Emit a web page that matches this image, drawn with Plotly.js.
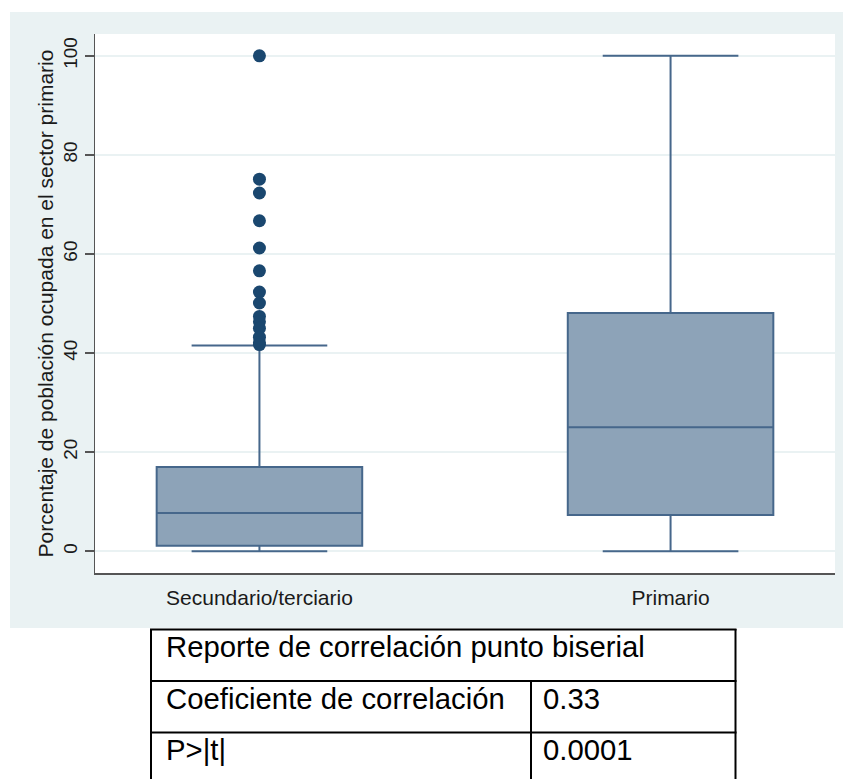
<!DOCTYPE html>
<html>
<head>
<meta charset="utf-8">
<script src="https://cdn.plot.ly/plotly-3.0.1.min.js"></script>
<style>html,body{margin:0;padding:0;background:#fff;}#chart{width:843px;height:779px;}</style>
</head>
<body>
<div id="chart"></div>
<script>
// ---- data ----
var categories = ['Secundario/terciario', 'Primario'];
var q1Values = [1.1, 7.3];
var medianValues = [7.7, 25.0];
var q3Values = [17.0, 48.1];
var lowerFences = [0, 0];
var upperFences = [41.5, 100];
var outlierValues = [100, 75.1, 72.3, 66.7, 61.2, 56.6, 52.3, 50.1, 47.4, 46.3, 45.0, 43.2, 42.1, 41.7];
var yTicks = [0, 20, 40, 60, 80, 100];
var tableRows = [
  ['Reporte de correlación punto biserial', ''],
  ['Coeficiente de correlación', '0.33'],
  ['P>|t|', '0.0001']
];

// ---- geometry helpers (pixel -> paper) ----
var L = 95, R = 835, T = 34, B = 573;
function xp(px) { return (px - L) / (R - L); }
function yp(py) { return (B - py) / (B - T); }

var boxLine = '#46678b';
var traces = [];
categories.forEach(function (c, i) {
  traces.push({
    type: 'box',
    x: [c],
    q1: [q1Values[i]],
    median: [medianValues[i]],
    q3: [q3Values[i]],
    lowerfence: [lowerFences[i]],
    upperfence: [upperFences[i]],
    width: 0.5,
    whiskerwidth: 0.66,
    boxpoints: false,
    fillcolor: '#8da3b8',
    line: { color: boxLine, width: 2 },
    hoverinfo: 'skip',
    showlegend: false
  });
});
traces.push({
  type: 'scatter',
  mode: 'markers',
  x: outlierValues.map(function () { return categories[0]; }),
  y: outlierValues,
  marker: { color: '#1a476f', size: 13 },
  hoverinfo: 'skip',
  showlegend: false
});

var shapes = [
  // white outside the grey graph region
  { type: 'rect', xref: 'paper', yref: 'paper', x0: -1, x1: 2, y0: yp(12), y1: 2, fillcolor: '#ffffff', line: { width: 0 } },
  { type: 'rect', xref: 'paper', yref: 'paper', x0: -1, x1: xp(10), y0: -1, y1: 2, fillcolor: '#ffffff', line: { width: 0 } },
  { type: 'rect', xref: 'paper', yref: 'paper', x0: -1, x1: 2, y0: -1, y1: yp(628), fillcolor: '#ffffff', line: { width: 0 } }
];
var tblLine = { color: '#000000', width: 2 };
function hline(py, x0, x1) { shapes.push({ type: 'line', xref: 'paper', yref: 'paper', x0: xp(x0), x1: xp(x1), y0: yp(py), y1: yp(py), line: tblLine }); }
function vline(px, y0, y1) { shapes.push({ type: 'line', xref: 'paper', yref: 'paper', x0: xp(px), x1: xp(px), y0: yp(y0), y1: yp(y1), line: tblLine }); }
hline(629.5, 150, 736.5);
hline(681, 150, 736.5);
hline(732.5, 150, 736.5);
vline(151, 629, 790);
vline(735.5, 629, 790);
vline(531, 681, 790);

var rowCenters = [646, 698, 749];
var annotations = [];
tableRows.forEach(function (row, i) {
  annotations.push({ xref: 'paper', yref: 'paper', x: xp(164), y: yp(rowCenters[i]), xanchor: 'left', yanchor: 'middle', text: row[0], showarrow: false, font: { family: 'Liberation Sans, Arial, sans-serif', size: 29.3, color: '#000' } });
  if (row[1]) {
    annotations.push({ xref: 'paper', yref: 'paper', x: xp(541), y: yp(rowCenters[i]), xanchor: 'left', yanchor: 'middle', text: row[1], showarrow: false, font: { family: 'Liberation Sans, Arial, sans-serif', size: 29.3, color: '#000' } });
  }
});

var layout = {
  width: 843,
  height: 779,
  margin: { l: L, r: 843 - R, t: T, b: 779 - B, pad: 0 },
  paper_bgcolor: '#eaf2f3',
  plot_bgcolor: '#ffffff',
  font: { family: 'Liberation Sans, Arial, sans-serif', color: '#1a1a1a' },
  showlegend: false,
  xaxis: {
    type: 'category',
    range: [-0.4, 1.4],
    showgrid: false,
    zeroline: false,
    showline: true,
    linecolor: '#555',
    linewidth: 1.5,
    ticks: '',
    tickfont: { size: 21, color: '#1a1a1a' },
    ticklabelstandoff: 5,
    fixedrange: true
  },
  yaxis: {
    range: [-4.4, 104.4],
    tickvals: yTicks,
    ticktext: yTicks.map(String),
    tickangle: -90,
    showgrid: true,
    gridcolor: '#eaf2f3',
    gridwidth: 1.5,
    zeroline: false,
    showline: true,
    linecolor: '#555',
    linewidth: 1.5,
    ticks: 'outside',
    ticklen: 9,
    tickwidth: 1.5,
    tickcolor: '#555',
    tickfont: { size: 19, color: '#1a1a1a' },
    title: { text: 'Porcentaje de población ocupada en el sector primario', font: { size: 21, color: '#1a1a1a' }, standoff: 0 },
    automargin: false,
    fixedrange: true
  },
  shapes: shapes,
  annotations: annotations
};

Plotly.newPlot('chart', traces, layout, { displayModeBar: false, staticPlot: true });
</script>
</body>
</html>
